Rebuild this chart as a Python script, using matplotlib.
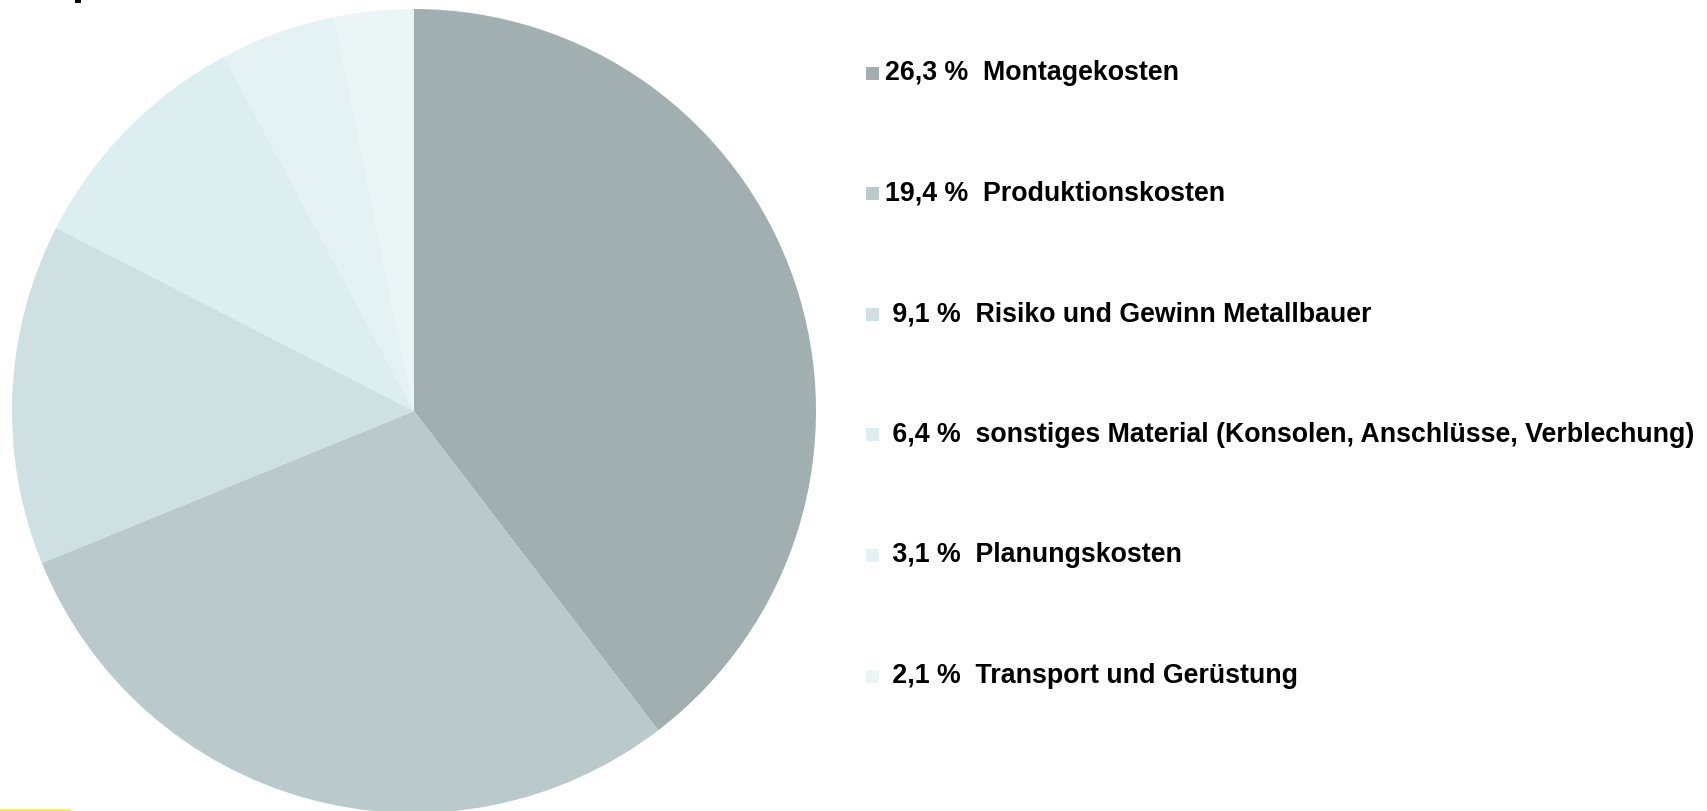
import matplotlib
matplotlib.use("Agg")
import matplotlib.pyplot as plt
from matplotlib.patches import Rectangle

plt.rcParams['font.family'] = ['Liberation Sans', 'DejaVu Sans']

# Kostenanteile in %
labels = ['Montagekosten', 'Produktionskosten', 'Risiko und Gewinn Metallbauer',
          'sonstiges Material (Konsolen, Anschlüsse, Verblechung)',
          'Planungskosten', 'Transport und Gerüstung']
anteile = [26.3, 19.4, 9.1, 6.4, 3.1, 2.1]
farben = ['#A2AFB0', '#B9C9CC', '#CFE0E3', '#DDEEF0', '#E5F2F3', '#ECF5F6']

W, H = 1708, 811
fig = plt.figure(figsize=(W / 100, H / 100), dpi=100)
ax = fig.add_axes([0, 0, 1, 1])

ax.pie(anteile, colors=farben, startangle=90, counterclock=False,
       center=(414, H - 411), radius=402,
       wedgeprops=dict(linewidth=0))
ax.set_xlim(0, W)
ax.set_ylim(0, H)
ax.set_aspect('equal')
ax.axis('off')

# Legende rechts
for i, (p, name, col) in enumerate(zip(anteile, labels, farben)):
    y = 73 + i * 120.6
    ax.add_patch(Rectangle((866, H - y - 6.5), 13, 13, color=col, lw=0))
    txt = f"{p:.1f}".replace('.', ',') + " %  " + name
    if p < 10:
        txt = " " + txt
    ax.text(885, H - y, txt, fontsize=19.3, fontweight='bold',
            va='center', ha='left', color='black')

# Reste am Rand
ax.add_patch(Rectangle((75, H - 3), 6, 3, color='black', lw=0, clip_on=False))
ax.add_patch(Rectangle((0, 0), 71, 2, color='#FFFF00', lw=0, clip_on=False))

plt.savefig('out.png', dpi=100)
